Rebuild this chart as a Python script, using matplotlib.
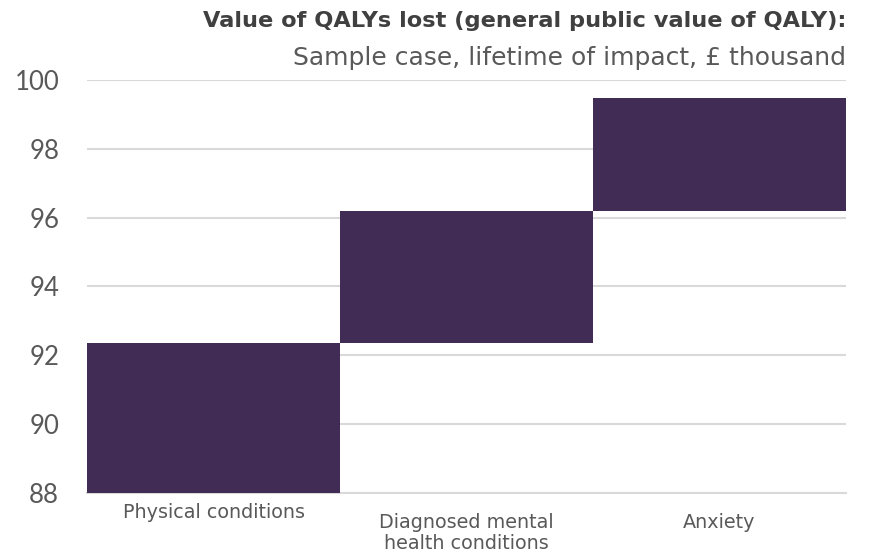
import matplotlib.pyplot as plt

plt.rcParams['font.family'] = ['DejaVu Sans']

# categories and waterfall steps (bottom / top of each bar, £ thousand)
categories = ["Physical conditions", "Diagnosed mental\nhealth conditions", "Anxiety"]
bar_bottom = [88.0, 92.36, 96.19]
bar_top = [92.36, 96.19, 99.47]
yticks = [88, 90, 92, 94, 96, 98, 100]

fig = plt.figure(figsize=(8.77, 5.52), dpi=100)
ax = fig.add_axes([0.0992, 0.1069, 0.8655, 0.7482])

heights = [t - b for t, b in zip(bar_top, bar_bottom)]
ax.bar(range(len(categories)), heights, bottom=bar_bottom, width=1.0,
       color="#412C56", zorder=3)

ax.set_xlim(-0.5, 2.5)
ax.set_ylim(88, 100)
ax.set_yticks(yticks)
ax.yaxis.grid(True, color="#D9D9D9", linewidth=1.5, zorder=0)
for s in ["top", "right", "left"]:
    ax.spines[s].set_visible(False)
ax.spines["bottom"].set_color("#D9D9D9")
ax.spines["bottom"].set_linewidth(1.5)
ax.tick_params(axis="y", length=0, pad=20, labelcolor="#595959")
ax.tick_params(axis="x", length=0, labelsize=13.8, labelcolor="#595959")
for lab in ax.get_yticklabels():
    lab.set_fontfamily("Lato")
    lab.set_fontsize(18.5)
ax.set_xticks(range(len(categories)))
ax.set_xticklabels(categories, linespacing=1.1)
xt = ax.xaxis.get_major_ticks()
xt[0].set_pad(7)
xt[1].set_pad(14.5)
xt[2].set_pad(14.5)

fig.text(0.9647, 0.962, "Value of QALYs lost (general public value of QALY):",
         ha="right", va="center", fontsize=16.2, fontweight="bold", color="#404040")
fig.text(0.9647, 0.895, "Sample case, lifetime of impact, £ thousand",
         ha="right", va="center", fontsize=18, color="#595959")

plt.savefig("out.png", dpi=100)
